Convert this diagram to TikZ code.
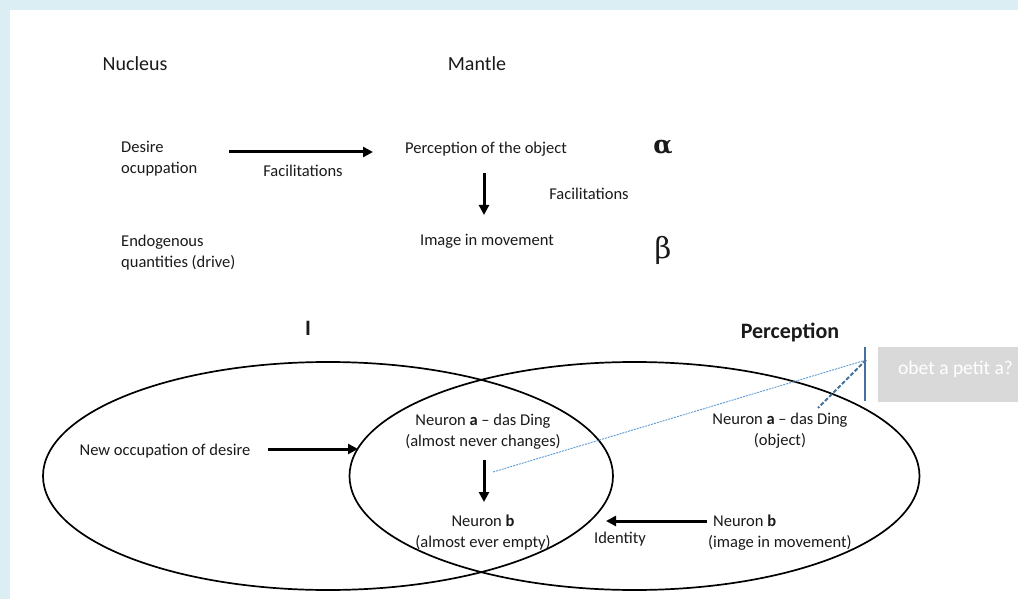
\documentclass[tikz,border=0pt]{standalone}
\usepackage{fontspec}
\setmainfont{Carlito}
\newfontfamily\grkfont{DejaVu Serif}
\usetikzlibrary{arrows.meta,shapes.geometric}
\definecolor{bgblue}{HTML}{DAEEF3}
\definecolor{lineblue}{HTML}{5B9BD5}
\definecolor{steel}{HTML}{41719C}
\definecolor{boxgray}{HTML}{D9D9D9}
\definecolor{txt}{HTML}{1A1A1A}
\begin{document}
\begin{tikzpicture}[x=1pt,y=-1pt,
  lbl/.style={inner sep=0pt, text=txt, font=\fontsize{16.5}{21}\selectfont},
  hdr/.style={inner sep=0pt, text=txt, font=\fontsize{20}{24}\selectfont},
  bighdr/.style={inner sep=0pt, text=txt, font=\fontsize{22}{26}\selectfont\bfseries},
  greek/.style={inner sep=0pt, text=txt, font=\grkfont\fontsize{25}{30}\selectfont},
  arr/.style={line width=3pt, -{Triangle[length=10pt,width=10pt]}},
  ell/.style={draw, ellipse, line width=1.7pt, inner sep=0pt, minimum width=570pt, minimum height=228pt},
  thinblue/.style={lineblue, line width=0.9pt, dash pattern=on 2pt off 1pt},
  thickblue/.style={steel, line width=2pt, dash pattern=on 4pt off 2pt},
]
\useasboundingbox (0,0) rectangle (1018,599);
\fill[bgblue] (0,0) rectangle (1018,599);
\fill[white] (10,10) rectangle (1018,599);

% headers
\node[hdr] (nucleus) at (135,64) {Nucleus};
\node[hdr] (mantle) at (477,64) {Mantle};

% top part
\node[lbl, anchor=west, align=left] (desire) at (121,158.5) {Desire\\ocuppation};
\node[lbl] (fac1) at (303,170.5) {Facilitations};
\node[lbl] (percobj) at (486,149.5) {Perception of the object};
\node[greek, font=\grkfont\bfseries\fontsize{25}{30}\selectfont] (alpha) at (663,147.5) {α};
\node[lbl] (fac2) at (589,193.5) {Facilitations};
\node[lbl, anchor=west, align=left] (endo) at (121,252.5) {Endogenous\\quantities (drive)};
\node[lbl] (imgmov) at (487,241.5) {Image in movement};
\node[greek, font=\grkfont\fontsize{29}{34}\selectfont] (beta) at (663,250) {β};

\coordinate (a1s) at (229,152);
\coordinate (a1e) at (373,152);
\draw[arr] (a1s) -- (a1e);
\coordinate (a2s) at (484,173);
\coordinate (a2e) at (484,215);
\draw[arr] (a2s) -- (a2e);

% lower part
\node[bighdr] (ihdr) at (308,328) {I};
\node[bighdr] (perchdr) at (790,332.5) {Perception};

\node[ell] (leftell) at (328,476) {};
\node[ell] (rightell) at (634.5,476) {};

\node[lbl] (newocc) at (165,451.5) {New occupation of desire};
\node[lbl, align=center] (neuA) at (483,431.5) {Neuron \textbf{a} – das Ding\\(almost never changes)};
\node[lbl, align=center] (neuB) at (483,532.5) {Neuron \textbf{b}\\(almost ever empty)};
\node[lbl, align=center] (objA) at (780,430.5) {Neuron \textbf{a} – das Ding\\(object)};
\node[lbl, anchor=west, align=left] (neuBr) at (708,532.5) {\hspace*{5pt}Neuron \textbf{b}\\(image in movement)};
\node[lbl] (identity) at (620,539.5) {Identity};

\coordinate (a3s) at (268,449);
\coordinate (a3e) at (358,449);
\draw[arr] (a3s) -- (a3e);
\coordinate (a4s) at (484,460);
\coordinate (a4e) at (484,502);
\draw[arr] (a4s) -- (a4e);
\coordinate (a5s) at (707,521);
\coordinate (a5e) at (606,521);
\draw[arr] (a5s) -- (a5e);

% blue marks and callout
\coordinate (vtop) at (865,347);
\coordinate (vbot) at (865,401);
\coordinate (hub) at (866,360);
\coordinate (dotstart) at (493,472);
\coordinate (dashend) at (818,408);
\draw[thinblue] (dotstart) -- (hub);
\draw[thickblue] (hub) -- (dashend);
\draw[steel, line width=2pt] (vtop) -- (vbot);

\node[fill=boxgray, anchor=north west, minimum width=145pt, minimum height=55pt, inner sep=0pt] (box) at (878,347) {};
\node[inner sep=0pt, text=white, font=\fontsize{19.5}{23}\selectfont, anchor=west] (boxtext) at (898,369) {obet a petit a?};
\end{tikzpicture}
\end{document}
